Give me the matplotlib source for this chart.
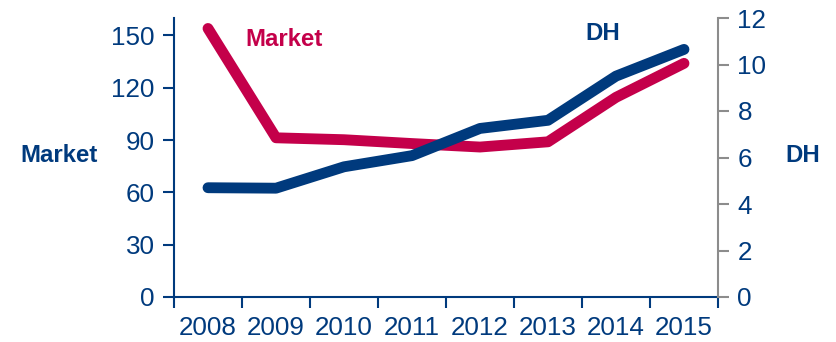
import numpy as np
import matplotlib; matplotlib.use('Agg')
import matplotlib.pyplot as plt

plt.rcParams['font.family'] = ['Liberation Sans', 'DejaVu Sans']

years  = ['2008', '2009', '2010', '2011', '2012', '2013', '2014', '2015']
market = [154, 91.3, 90.2, 88.0, 86.0, 89.0, 114.5, 134.0]
dh     = [4.70, 4.68, 5.60, 6.08, 7.25, 7.60, 9.50, 10.65]
left_ticks  = [0, 30, 60, 90, 120, 150]
right_ticks = [0, 2, 4, 6, 8, 10, 12]

RED = '#C4004A'; NAVY = '#003A7D'; GREY = '#8C8C8C'

fig = plt.figure(figsize=(8.37, 3.42), dpi=100)
ax = fig.add_axes([174/837, 45/342, 544/837, 279/342])
ax2 = ax.twinx()

x = np.arange(len(years))
ax.plot(x, market, color=RED, lw=7.8, solid_capstyle='round', solid_joinstyle='round', zorder=3)
ax2.plot(x, dh, color=NAVY, lw=7.8, solid_capstyle='round', solid_joinstyle='round', zorder=3)

ax.set_xlim(-0.5, len(years) - 0.5)
ax.set_ylim(0, 160)
ax2.set_ylim(0, 12)
ax.set_yticks(left_ticks)
ax2.set_yticks(right_ticks)

# year labels centred, tick marks between categories
ax.set_xticks(x)
ax.set_xticklabels(years)
ax.tick_params(axis='x', length=0, pad=14)
ax.set_xticks(np.arange(-0.5, len(years)), minor=True)
ax.tick_params(axis='x', which='minor', length=8, width=1.5, color=NAVY, direction='out')

ax.tick_params(axis='y', length=8, width=1.5, color=NAVY, labelcolor=NAVY, pad=6)
ax.tick_params(axis='x', labelcolor=NAVY)
ax2.tick_params(axis='y', length=8, width=1.5, color=GREY, labelcolor=NAVY, pad=6)
for a in (ax, ax2):
    for lab in a.get_xticklabels() + a.get_yticklabels():
        lab.set_fontsize(18.7)

for a in (ax, ax2):
    a.spines['top'].set_visible(False)
ax.spines['left'].set_color(NAVY); ax.spines['left'].set_linewidth(1.5)
ax.spines['bottom'].set_color(NAVY); ax.spines['bottom'].set_linewidth(1.5)
ax.spines['right'].set_visible(False)
ax2.spines['left'].set_visible(False)
ax2.spines['bottom'].set_visible(False)
ax2.spines['right'].set_color(GREY); ax2.spines['right'].set_linewidth(1.5)

# axis titles and series labels
fig.text(59/837, 1 - 155/342, 'Market', color=NAVY, fontsize=17.3, fontweight='bold',
         ha='center', va='center')
fig.text(803/837, 1 - 155/342, 'DH', color=NAVY, fontsize=17.3, fontweight='bold',
         ha='center', va='center')
fig.text(284/837, 1 - 39/342, 'Market', color=RED, fontsize=17.3, fontweight='bold',
         ha='center', va='center')
fig.text(603/837, 1 - 33/342, 'DH', color=NAVY, fontsize=17.3, fontweight='bold',
         ha='center', va='center')

plt.savefig('out.png', dpi=100)
plt.close()
